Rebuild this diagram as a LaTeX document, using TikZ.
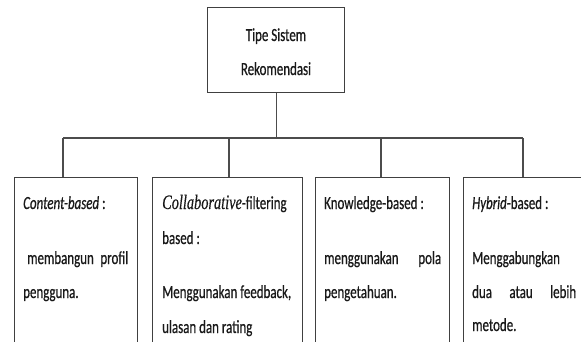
\documentclass[tikz,border=0pt]{standalone}
\usepackage{fontspec}
\setmainfont[FakeStretch=0.7,FakeBold=0.6]{Carlito}
\newfontfamily\collabfont[FakeStretch=0.7,FakeBold=0.4]{Liberation Serif}
\begin{document}
\begin{tikzpicture}[x=1pt,y=-1pt,
  frame/.style={draw=black!75,line width=1.4pt},
  wire/.style={draw=black!70,line width=1.4pt},
  txt/.style={inner sep=0pt,anchor=base west,text=black!90,font=\fontsize{18.5}{20}\selectfont},
  boxnode/.style={frame,anchor=north west,inner sep=0pt,minimum height=200pt}]
\useasboundingbox (0,0) rectangle (581,341);
\clip (0,0) rectangle (581,341);

% root box
\node[frame,anchor=north west,minimum width=137pt,minimum height=85pt,inner sep=0pt] (root) at (207,7) {};
\node[txt,anchor=base] (rootA) at (276,41) {Tipe Sistem};
\node[txt,anchor=base] (rootB) at (276,75) {Rekomendasi};

% child boxes (open at the bottom of the page)
\node[boxnode,minimum width=123pt] (b1) at (14,177) {};
\node[boxnode,minimum width=150pt] (b2) at (152,177) {};
\node[boxnode,minimum width=134pt] (b3) at (315,177) {};
\node[boxnode,minimum width=140pt] (b4) at (463,177) {};

% tree connectors
\coordinate (barM) at (root.south |- 0,138);
\coordinate (bar1) at (63,138);
\coordinate (bar2) at (229,138);
\coordinate (bar3) at (381,138);
\coordinate (bar4) at (523,138);
\draw[wire] (root.south) -- (barM);
\draw[wire] (bar1) -- (bar4);
\draw[wire] (bar1) -- (bar1 |- b1.north);
\draw[wire] (bar2) -- (bar2 |- b2.north);
\draw[wire] (bar3) -- (bar3 |- b3.north);
\draw[wire] (bar4) -- (bar4 |- b4.north);

% box 1
\node[txt] (t1a) at (23,209) {\textit{Content-based} :};
\node[txt] (t1b) at (27,264) {\hbox to 101pt{membangun\hfill profil}};
\node[txt] (t1c) at (23,298) {pengguna.};

% box 2
\node[txt] (t2a) at (162,209) {{\collabfont\fontsize{20.5}{20}\selectfont\itshape Collaborative}-filtering};
\node[txt] (t2b) at (162,244) {based :};
\node[txt] (t2c) at (162,298) {Menggunakan feedback,};
\node[txt] (t2d) at (162,333) {ulasan dan rating};

% box 3
\node[txt] (t3a) at (324,209) {Knowledge-based :};
\node[txt] (t3b) at (324,264) {\hbox to 117pt{menggunakan\hfill pola}};
\node[txt] (t3c) at (324,298) {pengetahuan.};

% box 4
\node[txt] (t4a) at (472,209) {\textit{Hybrid}-based :};
\node[txt] (t4b) at (472,264) {Menggabungkan};
\node[txt] (t4c) at (472,298) {\hbox to 104pt{dua\hfill atau\hfill lebih}};
\node[txt] (t4d) at (472,331) {metode.};
\end{tikzpicture}
\end{document}
